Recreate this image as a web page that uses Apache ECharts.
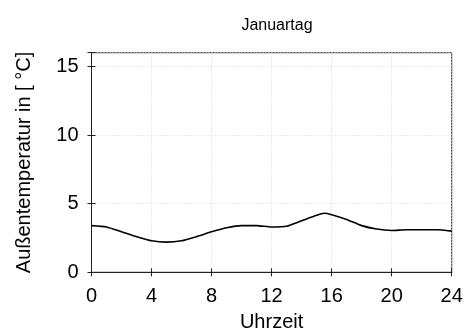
<!DOCTYPE html>
<html>
<head>
<meta charset="utf-8">
<script src="https://cdn.jsdelivr.net/npm/echarts@6/dist/echarts.min.js"></script>
<style>
  html, body { margin: 0; padding: 0; background: #fff; }
  #chart { width: 467px; height: 332px; }
</style>
</head>
<body>
<div id="chart"></div>
<script>
// Outdoor temperature over one January day (hour of day, °C)
const hours = [0, 1, 2, 3, 4, 5, 6, 7, 8, 9, 10, 11, 12, 13, 14, 15, 15.5, 16, 17, 18, 19, 20, 21, 22, 23, 24];
const temperature = [3.4, 3.3, 2.95, 2.6, 2.3, 2.2, 2.3, 2.6, 2.95, 3.25, 3.4, 3.4, 3.3, 3.35, 3.75, 4.15, 4.3, 4.2, 3.85, 3.4, 3.15, 3.05, 3.1, 3.1, 3.1, 3.0];
const xTicks = [0, 4, 8, 12, 16, 20, 24];
const yTicks = [0, 5, 10, 15];

const titleText = 'Januartag';
const xName = 'Uhrzeit';
const yName = 'Außentemperatur in [ °C]';

const FONT = 'Liberation Sans, Arial, Helvetica, sans-serif';
const frameColor = '#222';
const gridLine = { show: true, lineStyle: { color: '#d9d9d9', type: [1, 2], width: 1 } };

const chart = echarts.init(document.getElementById('chart'), null, { renderer: 'canvas' });

function tickFmt(list) {
  return v => (list.indexOf(v) >= 0 ? String(v) : '');
}

chart.setOption({
  animation: false,
  title: {
    text: titleText,
    left: 272,
    top: 13,
    textAlign: 'center',
    textStyle: { fontFamily: FONT, fontSize: 16, fontWeight: 'normal', color: '#000' }
  },
  grid: {
    left: 91.5, right: 15.3, top: 52.7, bottom: 59.7,
    containLabel: false,
    outerBoundsMode: 'none',
    show: true, borderColor: frameColor, borderWidth: 1, backgroundColor: 'transparent'
  },
  xAxis: [{
    type: 'value', min: 0, max: 24, interval: 4,
    name: xName, nameLocation: 'middle', nameGap: 40,
    nameTextStyle: { fontFamily: FONT, fontSize: 20, color: '#000' },
    axisLine: { show: true, lineStyle: { color: frameColor } },
    axisTick: { show: true, inside: true, length: 4, lineStyle: { color: frameColor } },
    axisLabel: { fontFamily: FONT, fontSize: 20, color: '#000', margin: 14, formatter: tickFmt(xTicks) },
    splitLine: gridLine
  }, {
    type: 'value', min: 0, max: 24, interval: 4, position: 'top',
    axisLine: { show: true, lineStyle: { color: frameColor } },
    axisTick: { show: true, inside: true, length: 4, lineStyle: { color: frameColor } },
    axisLabel: { show: false }, splitLine: { show: false }
  }],
  yAxis: [{
    type: 'value', min: 0, max: 16, interval: 5,
    name: yName, nameLocation: 'middle', nameGap: 57,
    nameTextStyle: { fontFamily: FONT, fontSize: 20, color: '#000' },
    axisLine: { show: true, lineStyle: { color: frameColor } },
    axisTick: { show: true, inside: true, length: 4, lineStyle: { color: frameColor } },
    axisLabel: { fontFamily: FONT, fontSize: 20, color: '#000', margin: 13, formatter: tickFmt(yTicks) },
    splitLine: gridLine
  }, {
    type: 'value', min: 0, max: 16, interval: 5, position: 'right',
    axisLine: { show: true, lineStyle: { color: frameColor } },
    axisTick: { show: true, inside: true, length: 4, lineStyle: { color: frameColor } },
    axisLabel: { show: false }, splitLine: { show: false }
  }],
  series: [{
    type: 'line',
    data: hours.map((h, i) => [h, temperature[i]]),
    showSymbol: false,
    smooth: 0.2,
    lineStyle: { color: '#000', width: 1.6 },
    clip: true
  }]
});
</script>
</body>
</html>
